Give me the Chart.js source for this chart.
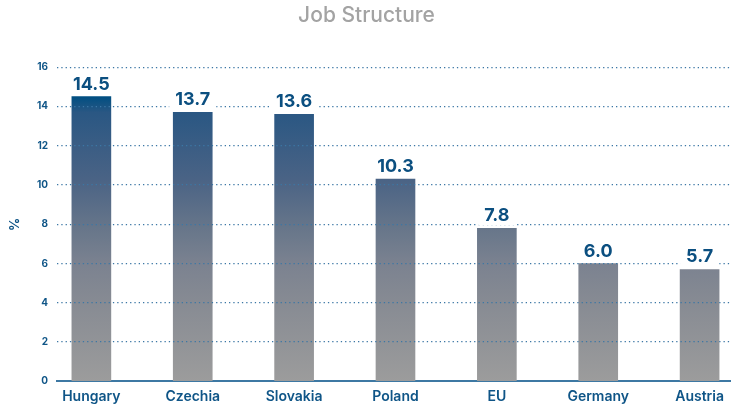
<!DOCTYPE html>
<html>
<head>
<meta charset="utf-8">
<script src="https://cdn.jsdelivr.net/npm/chart.js@4/dist/chart.umd.min.js"></script>
<style>
html,body{margin:0;padding:0;background:#fff;}
#wrap{width:733px;height:408px;position:relative;}
</style>
</head>
<body>
<div id="wrap"><canvas id="c"></canvas></div>
<script>
const categories = ["Hungary", "Czechia", "Slovakia", "Poland", "EU", "Germany", "Austria"];
const values = [14.5, 13.7, 13.6, 10.3, 7.8, 6.0, 5.7];
const yTicks = [0, 2, 4, 6, 8, 10, 12, 14, 16];

const blue = '#0f5587';
const FONT = 'Inter, "Open Sans", sans-serif';

function barGradient(ctx) {
  const chart = ctx.chart;
  const a = chart.chartArea;
  if (!a) return '#667589';
  const g = chart.ctx.createLinearGradient(0, a.top, 0, a.bottom);
  g.addColorStop(0, '#004a7e');
  g.addColorStop(0.094, '#004f82');
  g.addColorStop(0.144, '#2a5783');
  g.addColorStop(0.356, '#4a6385');
  g.addColorStop(0.5125, '#67768a');
  g.addColorStop(0.625, '#7b8290');
  g.addColorStop(0.75, '#878b93');
  g.addColorStop(1, '#9c9c9c');
  return g;
}

const labelPlugin = {
  id: 'valueLabels',
  afterDraw(chart) {
    const ctx = chart.ctx;
    const meta = chart.getDatasetMeta(0);
    ctx.save();
    ctx.font = 'bold 18px ' + FONT;
    ctx.textAlign = 'center';
    ctx.textBaseline = 'alphabetic';
    meta.data.forEach((bar, i) => {
      const txt = values[i].toFixed(1);
      const w = ctx.measureText(txt).width;
      const base = bar.y - 7;
      ctx.fillStyle = '#ffffff';
      ctx.fillRect(bar.x - w / 2 - 6, base - 17, w + 12, 21);
      ctx.fillStyle = '#0b4f80';
      ctx.fillText(txt, bar.x, base);
    });
    ctx.restore();
  }
};

new Chart(document.getElementById('c'), {
  type: 'bar',
  data: {
    datasets: [{
      data: values.map((v, i) => ({ x: i, y: v })),
      backgroundColor: barGradient,
      barThickness: 39,
      borderWidth: 0
    }]
  },
  options: {
    responsive: true,
    maintainAspectRatio: false,
    animation: false,
    layout: { padding: { left: 0, right: 0, top: 0, bottom: -4 } },
    plugins: {
      legend: { display: false },
      tooltip: { enabled: false },
      title: {
        display: true,
        text: 'Job Structure',
        color: '#a3a3a3',
        font: { family: FONT, size: 21, weight: '500' },
        padding: { top: 3, bottom: 39 }
      }
    },
    scales: {
      x: {
        type: 'linear',
        offset: false,
        min: -0.339,
        max: 6.3,
        afterBuildTicks: s => { s.ticks = categories.map((c, i) => ({ value: i })); },
        ticks: {
          callback: v => categories[v] ?? '',
          color: blue,
          font: { family: FONT, size: 14, weight: '600', lineHeight: 0.9 },
          padding: 9,
          maxRotation: 0,
          autoSkip: false
        },
        grid: { display: false, drawTicks: false, offset: false },
        border: { display: true, color: '#3d78a3', width: 2 }
      },
      y: {
        min: 0,
        max: 16,
        afterBuildTicks: s => { s.ticks = yTicks.map(v => ({ value: v })); },
        afterFit: s => { s.width = 57; },
        ticks: {
          color: blue,
          font: { family: FONT, size: 10, weight: 'bold' },
          padding: 9
        },
        grid: {
          z: 1,
          drawTicks: false,
          color: c => c.tick && c.tick.value === 0 ? 'rgba(0,0,0,0)' : '#3c77a5',
          lineWidth: 1.3
        },
        border: { display: false, dash: [1.3, 3] },
        title: {
          display: true,
          text: '%',
          color: blue,
          font: { family: FONT, size: 13, weight: 'bold' },
          padding: { top: 7, bottom: 0 }
        }
      }
    }
  },
  plugins: [labelPlugin]
});
</script>
</body>
</html>
